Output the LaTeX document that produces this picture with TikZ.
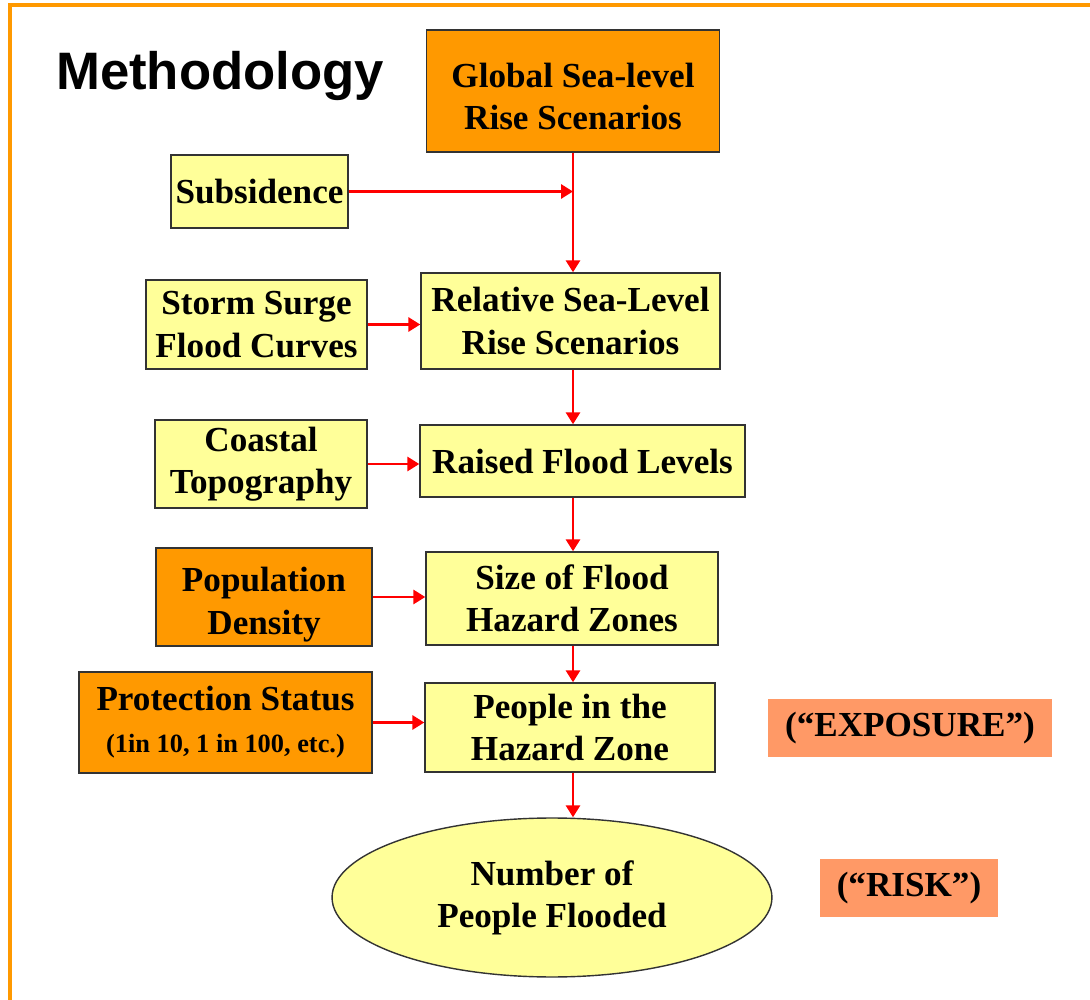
\documentclass[tikz,border=0pt]{standalone}
\usepackage{fontspec}
\setmainfont{Liberation Serif}
\newfontfamily\headfont{Liberation Sans}
\usepackage{tikz}
\usetikzlibrary{shapes,arrows.meta,positioning}
\definecolor{boxorange}{RGB}{255,153,0}
\definecolor{boxyellow}{RGB}{255,255,153}
\definecolor{boxsalmon}{RGB}{255,153,102}
\tikzstyle{yellowblock}=[rectangle, draw=black!80, line width=0.8pt, fill=boxyellow, align=center, inner sep=1pt, font=\bfseries\fontsize{20}{24}\selectfont]
\tikzstyle{orangeblock}=[yellowblock, fill=boxorange]
\tikzstyle{tagblock}=[rectangle, fill=boxsalmon, align=center, inner sep=1pt, font=\bfseries\fontsize{20}{24}\selectfont]
\tikzstyle{redline}=[->, red, line width=1.7pt, >={Triangle[length=0.24cm,width=0.28cm]}]

\begin{document}
\begin{tikzpicture}[x=0.02cm, y=-0.02cm]
\useasboundingbox (0,0) rectangle (1090,1000);

% frame
\draw[boxorange, line width=0.09cm] (10,1000) |- (1090,5);

\node[anchor=base west, font=\headfont\bfseries\fontsize{30}{36}\selectfont] (title) at (50,90) {Methodology};

\node[orangeblock, minimum width=5.86cm, minimum height=2.44cm] (glob) at (573,91) {\rule{0pt}{20.5pt}Global Sea-level \\ Rise Scenarios};
\node[yellowblock, minimum width=3.54cm, minimum height=1.46cm] (sub) at (259.5,191.5) {Subsidence};
\node[yellowblock, minimum width=4.42cm, minimum height=1.78cm] (storm) at (256.5,324.5) {Storm Surge \\ Flood Curves};
\node[yellowblock, minimum width=5.98cm, minimum height=1.92cm] (rel) at (570.5,321) {Relative Sea-Level \\ Rise Scenarios};
\node[yellowblock, minimum width=4.24cm, minimum height=1.76cm] (coast) at (261,464) {Coastal \\ Topography};
\node[yellowblock, minimum width=6.5cm, minimum height=1.44cm] (raised) at (582.5,461) {Raised Flood Levels};
\node[orangeblock, minimum width=4.32cm, minimum height=1.96cm] (pop) at (264,597) {\rule{0pt}{22.5pt}Population \\ Density};
\node[yellowblock, minimum width=5.84cm, minimum height=1.86cm] (size) at (572,598.5) {Size of Flood \\ Hazard Zones};
\node[orangeblock, minimum width=5.86cm, minimum height=2.02cm] (prot) at (225.5,722.5) {Protection Status \\ {\fontsize{15}{22}\selectfont (1in 10, 1 in 100, etc.)}};
\node[yellowblock, minimum width=5.8cm, minimum height=1.78cm] (people) at (570,727.5) {People in the \\ Hazard Zone};
\node[yellowblock, ellipse, inner sep=0pt, minimum width=8.8cm, minimum height=3.18cm] (flooded) at (552,897.5) {Number of \\ People Flooded};
\node[tagblock, minimum width=5.68cm, minimum height=1.16cm] (expo) at (910,728) {(“EXPOSURE”)};
\node[tagblock, minimum width=3.56cm, minimum height=1.16cm] (risk) at (909,888) {(“RISK”)};

\draw[redline](glob.south) -- (glob.south |- rel.north);
\draw[redline](sub.east) -- (sub.east -| glob.south);
\draw[redline](storm.east) -- (rel.west |- storm.east);
\draw[redline](glob.south |- rel.south) -- (glob.south |- raised.north);
\draw[redline](coast.east) -- (raised.west |- coast.east);
\draw[redline](glob.south |- raised.south) -- (glob.south |- size.north);
\draw[redline](pop.east) -- (size.west |- pop.east);
\draw[redline](glob.south |- size.south) -- (glob.south |- people.north);
\draw[redline](prot.east) -- (people.west |- prot.east);
\draw[redline](glob.south |- people.south) -- (glob.south |- flooded.north);

\end{tikzpicture}
\end{document}
